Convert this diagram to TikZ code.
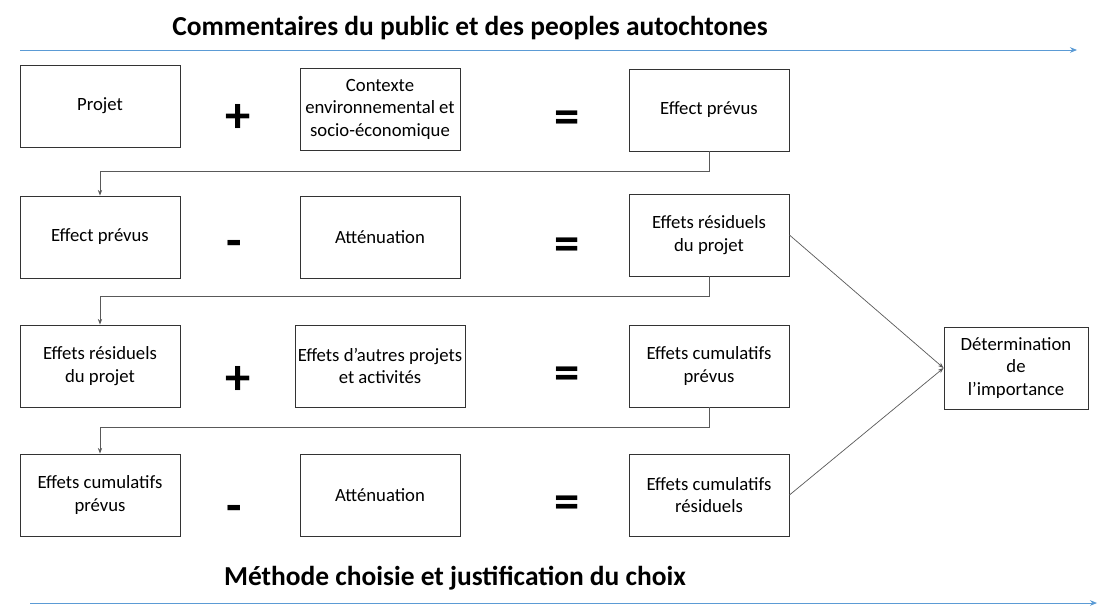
\documentclass[tikz,border=0pt]{standalone}
\usepackage{fontspec}
\setmainfont{Carlito}
\usetikzlibrary{arrows.meta}
\begin{document}
\begin{tikzpicture}[x=0.025cm,y=-0.025cm,
  bx/.style={draw=black!80,line width=0.6pt,minimum width=4cm,minimum height=2.05cm,align=center,font=\fontsize{13.3}{16}\selectfont,inner sep=2pt},
  op/.style={font=\bfseries\fontsize{36}{36}\selectfont},
  conn/.style={draw=black!65,line width=0.5pt,-{Stealth[length=4pt,width=3pt]}},
  blue/.style={draw={rgb,255:red,91;green,155;blue,213},line width=0.6pt,-{Stealth[length=5pt,width=4pt]}},
  ttl/.style={font=\bfseries\fontsize{19.5}{22}\selectfont}]
\useasboundingbox (0,0) rectangle (1100,613);
\node[ttl] (t1) at (470,28) {Commentaires du public et des peoples autochtones};
\coordinate (a1) at (20,50); \coordinate (a2) at (1077,50);
\draw[blue] (a1) -- (a2);
\node[ttl] (t2) at (455,578) {Méthode choisie et justification du choix};
\coordinate (b1) at (30,603); \coordinate (b2) at (1097,603);
\draw[blue] (b1) -- (b2);
% row 1
\node[bx] (r1a) at (100,106) {Projet};
\node[op] (o1a) at (238,118) {+};
\node[bx] (r1b) at (380,109) {Contexte\\environnemental et\\socio-économique};
\node[op] (o1b) at (567,122) {=};
\node[bx] (r1c) at (709,110) {Effect prévus};
% row 2
\node[bx] (r2a) at (100,237) {Effect prévus};
\node[op] (o2a) at (234,249) {-};
\node[bx] (r2b) at (380,237) {Atténuation};
\node[op] (o2b) at (567,249) {=};
\node[bx] (r2c) at (709,235) {Effets résiduels\\du projet};
% row 3
\node[bx] (r3a) at (100,366) {Effets résiduels\\du projet};
\node[op] (o3a) at (238,380) {+};
\node[bx] (r3b) at (380,366) {Effets d’autres projets\\et activités};
\node[op] (o3b) at (567,378) {=};
\node[bx] (r3c) at (709,366) {Effets cumulatifs\\prévus};
% row 4
\node[bx] (r4a) at (100,495) {Effets cumulatifs\\prévus};
\node[op] (o4a) at (234,514) {-};
\node[bx] (r4b) at (380,495) {Atténuation};
\node[op] (o4b) at (567,507) {=};
\node[bx] (r4c) at (709,495) {Effets cumulatifs\\résiduels};
% determination
\node[bx,minimum width=3.6cm] (d) at (1016,368) {Détermination\\de\\l’importance};
% connectors
\draw[conn] (r1c.south) -- ++(0,20) -| (r2a.north);
\draw[conn] (r2c.south) -- ++(0,20) -| (r3a.north);
\draw[conn] (r3c.south) -- ++(0,20) -| (r4a.north);
\draw[conn] (r2c.east) -- (d.west);
\draw[conn] (r4c.east) -- (d.west);
\end{tikzpicture}
\end{document}
